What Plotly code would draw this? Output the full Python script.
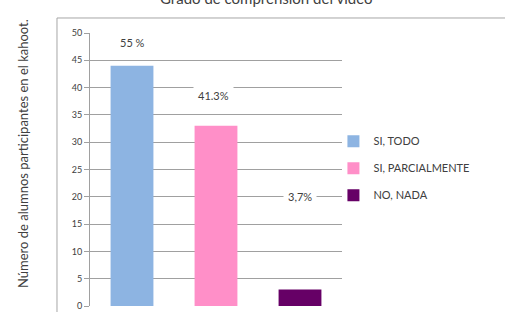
import plotly.graph_objects as go

categories = ["SI, TODO", "SI, PARCIALMENTE", "NO, NADA"]
values = [44, 33, 3]
pct_labels = ["55 %", "41.3%", "3,7%"]
label_y = [48.2, 38.5, 20]
colors = ["#8DB4E2", "#FF8FC8", "#660066"]
y_ticks = [0, 5, 10, 15, 20, 25, 30, 35, 40, 45, 50]
title_text = "Grado de comprensión del vídeo"

font = "Lato, 'Liberation Sans', sans-serif"
fig = go.Figure()
for i, (c, v, col) in enumerate(zip(categories, values, colors)):
    fig.add_trace(go.Bar(x=[i], y=[v], name=c, marker=dict(color=col, line=dict(width=0)),
                         width=0.51, showlegend=True, legendgroup=f"g{i}"))

for i, (t, ly) in enumerate(zip(pct_labels, label_y)):
    fig.add_annotation(x=i, y=ly, xref="x", yref="y", text=t, showarrow=False,
                       font=dict(size=11, color="#404040", family=font),
                       bgcolor="white", borderpad=4, xshift=(-3 if i == 1 else 0))

fig.add_annotation(x=-0.306, y=0.56, xref="paper", yref="paper",
                   text="Número de alumnos participantes en el kahoot.", textangle=-90,
                   showarrow=False, font=dict(size=13, color="#404040", family=font))

fig.add_annotation(x=0.702, y=1.128, xref="paper", yref="paper", text=title_text,
                   showarrow=False, xanchor="center", yanchor="middle",
                   font=dict(size=15, color="#404040", family=font))

fig.add_shape(type="rect", xref="paper", yref="paper", x0=-0.131, x1=2, y0=-0.2, y1=1.055,
              line=dict(color="#a6a6a6", width=1), fillcolor="rgba(0,0,0,0)", layer="below")

fig.update_layout(
    width=505, height=312,
    margin=dict(l=90, r=163, t=33, b=6, autoexpand=False),
    paper_bgcolor="white", plot_bgcolor="white",
    barmode="overlay",
    legend=dict(x=0.966, y=0.505, xanchor="left", yanchor="middle",
                font=dict(size=11, color="#404040", family=font),
                itemwidth=30, tracegroupgap=8, bgcolor="rgba(0,0,0,0)"),
    xaxis=dict(range=[-0.5, 2.5], showticklabels=False, showgrid=False, zeroline=False,
               showline=False, ticks=""),
    yaxis=dict(range=[0, 50], tickvals=y_ticks, showgrid=True, gridcolor="#a0a0a0", gridwidth=1,
               showline=True, linecolor="#a0a0a0", linewidth=1, ticks="outside", ticklen=5,
               tickcolor="#a0a0a0", zeroline=False, automargin=False,
               tickfont=dict(size=9, color="#404040", family=font)),
)
fig.write_html("out.html", config={"displayModeBar": False},
               post_script="document.body.style.margin='0';document.body.style.overflow='hidden';")
